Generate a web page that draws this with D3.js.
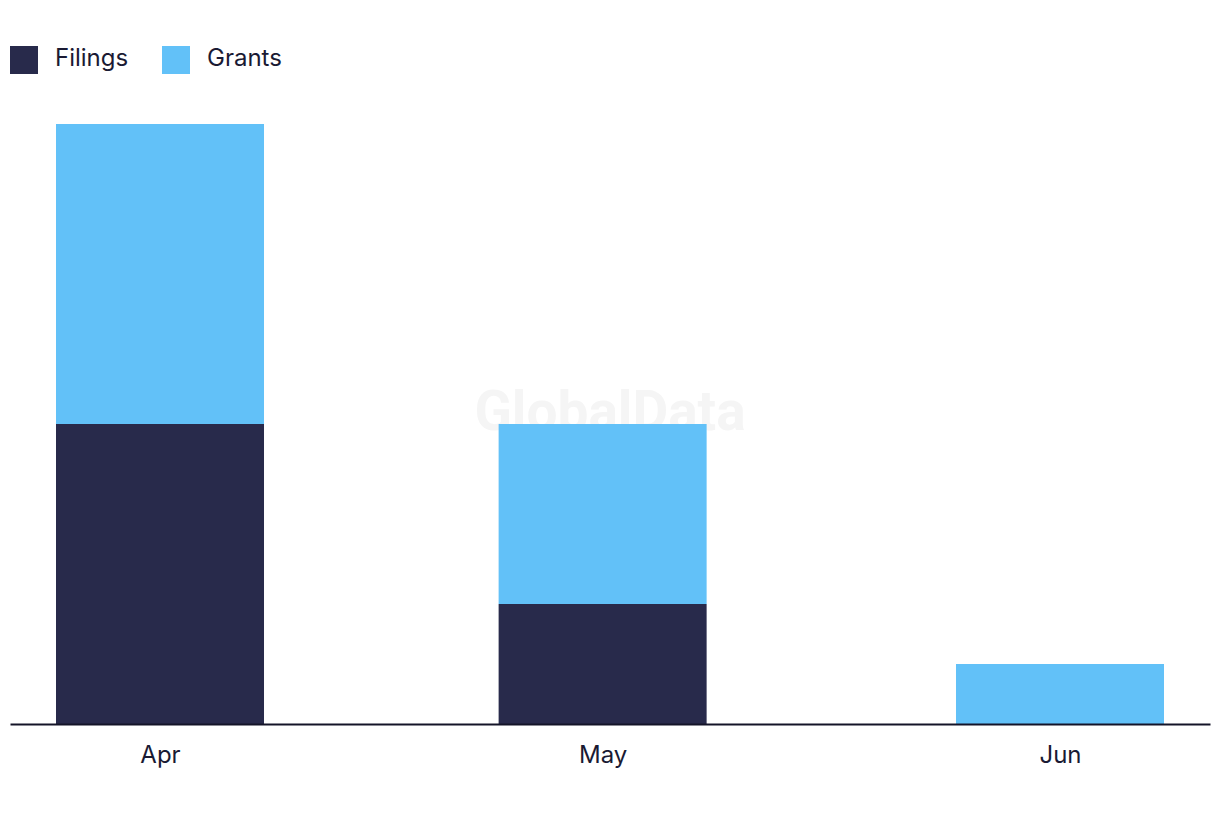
<!DOCTYPE html>
<html><head><meta charset="utf-8">
<script src="https://cdn.jsdelivr.net/npm/d3@7"></script>
<style>body{margin:0;background:#fff;}svg{display:block;font-family:Inter,"Open Sans",sans-serif;}</style>
</head><body><svg id="c" width="1220" height="822"></svg>
<script>
const months = ["Apr", "May", "Jun"];
const monthDates = ["2023-04-01", "2023-05-01", "2023-06-01"];
const filings = [5, 2, 0];
const grants = [5, 3, 1];
const seriesNames = ["Filings", "Grants"];
const colors = ["#282a4b", "#62c1f8"];

const svg = d3.select("#c");
const parse = d3.utcParse("%Y-%m-%d");
const dates = monthDates.map(parse);
const padDays = 10.167 * 864e5;
const x = d3.scaleUtc()
  .domain([new Date(+dates[0] - padDays), new Date(+dates[2] + padDays)])
  .range([10, 1210]);
const y = d3.scaleLinear().domain([0, 10]).range([724, 124]);
const barW = 208;

// watermark
svg.append("text").attr("x", 610).attr("y", 430).attr("text-anchor", "middle")
  .attr("font-size", 55).attr("font-weight", 700).attr("fill", "#f5f5f5")
  .attr("font-family", "Roboto, Arial, sans-serif").text("GlobalData");

const data = months.map((m, i) => ({m, d: dates[i], Filings: filings[i], Grants: grants[i]}));
const stack = d3.stack().keys(seriesNames)(data);
svg.append("g").selectAll("g").data(stack).join("g")
  .attr("fill", (s, i) => colors[i])
  .selectAll("rect").data(s => s.filter(p => p[1] > p[0])).join("rect")
  .attr("x", p => x(p.data.d) - barW / 2)
  .attr("width", barW)
  .attr("y", p => y(p[1]))
  .attr("height", p => y(p[0]) - y(p[1]));

// axis
const ax = svg.append("g").attr("transform", `translate(0,${y(0)})`)
  .call(d3.axisBottom(x).tickValues(dates).tickFormat((d, i) => months[i]).tickSize(0).tickPadding(22));
ax.select(".domain").attr("stroke", "#141428").attr("stroke-width", 2);
ax.selectAll("text").attr("font-size", 24).attr("fill", "#1a1a33").attr("font-family", "Inter, sans-serif");

// legend
const leg = svg.append("g");
const legX = [10, 162];
seriesNames.forEach((n, i) => {
  leg.append("rect").attr("x", legX[i]).attr("y", 46).attr("width", 28).attr("height", 28).attr("fill", colors[i]);
  leg.append("text").attr("x", legX[i] + 45).attr("y", 66).attr("font-size", 24)
    .attr("fill", "#1a1a33").text(n);
});
</script></body></html>
